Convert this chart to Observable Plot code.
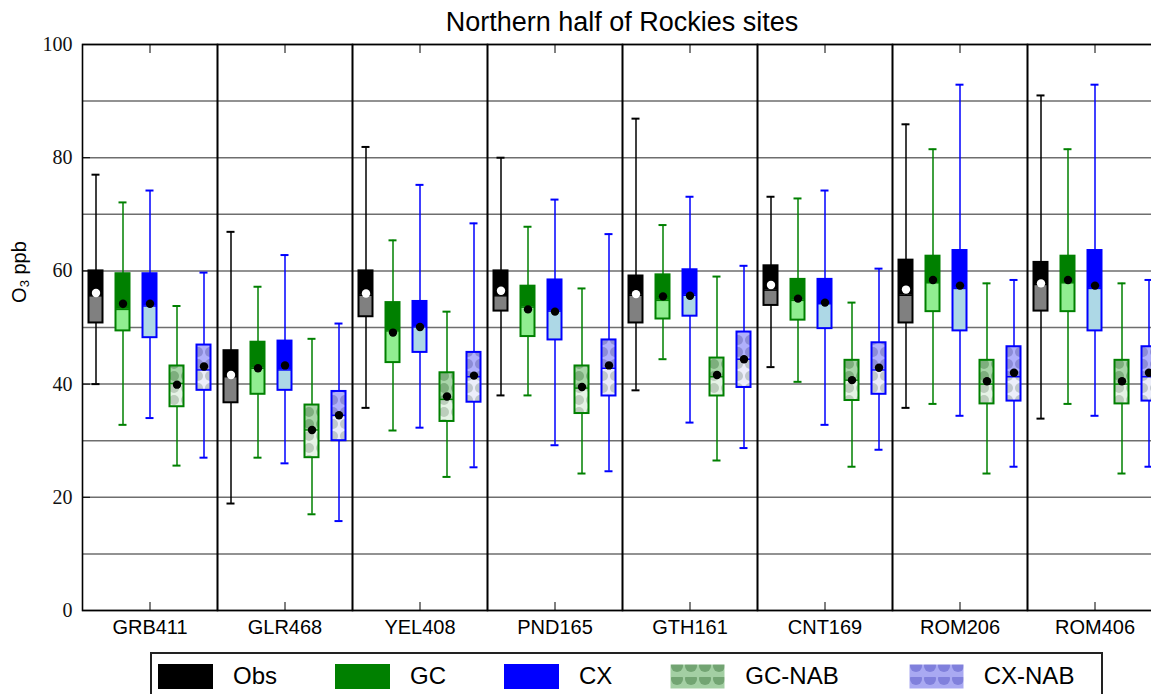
<!DOCTYPE html>
<html>
<head>
<meta charset="utf-8">
<script src="https://cdn.jsdelivr.net/npm/d3@7"></script>
<script src="https://cdn.jsdelivr.net/npm/@observablehq/plot@0.6"></script>
<style>
  html, body { margin: 0; padding: 0; background: #fff; overflow: hidden; width: 1151px; height: 694px; }
  #wrap { position: relative; width: 1172px; }
  #title { height: 29px; padding-top: 5px; line-height: 34px; padding-left: 82px; width: 1080px; text-align: center;
           font-family: "Liberation Sans", Arial, sans-serif; font-size: 27px; color: #000; white-space: nowrap; }
  #ylabel { position: absolute; left: -31px; top: 260px; width: 100px; height: 24px; line-height: 24px; text-align: center;
            transform: rotate(-90deg); font-family: "Liberation Sans", Arial, sans-serif; font-size: 20px; color: #000; }
  #ylabel sub { font-size: 13px; vertical-align: -3px; line-height: 0; }
  #chart svg { display: block; }
  #legend { margin-top: 12px; margin-left: 150px; width: 943px; height: 44px; border: 2px solid #222; box-sizing: content-box;
            display: flex; align-items: center; padding-left: 6px; font-family: "Liberation Sans", Arial, sans-serif; font-size: 24px; color: #000;
            white-space: nowrap; overflow: visible; }
  .item { display: flex; align-items: center; margin-right: 58px; flex: 0 0 auto; white-space: nowrap; }
  .item:nth-child(4) { margin-right: 70px; }
  .item svg { margin-right: 20px; display: block; flex: 0 0 auto; }
</style>
</head>
<body>
<svg width="0" height="0" style="position:absolute">
  <defs>
    <pattern id="pGCd" patternUnits="userSpaceOnUse" width="12" height="12">
      <rect width="12" height="12" fill="#a9d5a9"/>
      <circle cx="6" cy="6" r="5" fill="#7dae7d"/>
    </pattern>
    <pattern id="pGCl" patternUnits="userSpaceOnUse" width="12" height="12">
      <rect width="12" height="12" fill="#e6f3e6"/>
      <circle cx="6" cy="6" r="5" fill="#bccdbc"/>
    </pattern>
    <pattern id="pCXd" patternUnits="userSpaceOnUse" width="12" height="12">
      <rect width="12" height="12" fill="#b0b0fb"/>
      <circle cx="6" cy="6" r="5" fill="#8c8cd6"/>
    </pattern>
    <pattern id="pCXl" patternUnits="userSpaceOnUse" width="12" height="12">
      <rect width="12" height="12" fill="#eceefa"/>
      <circle cx="6" cy="6" r="5" fill="#bfc7cc"/>
    </pattern>
    <pattern id="lGC" patternUnits="userSpaceOnUse" width="14" height="13">
      <rect width="14" height="13" fill="#a3cfa3"/>
      <circle cx="7" cy="2" r="6" fill="#72a472"/>
    </pattern>
    <pattern id="lCX" patternUnits="userSpaceOnUse" width="14" height="13">
      <rect width="14" height="13" fill="#a9a9f2"/>
      <circle cx="7" cy="2" r="6" fill="#8080dc"/>
    </pattern>
  </defs>
</svg>
<div id="wrap">
  <div id="title">Northern half of Rockies sites</div>
  <div id="ylabel">O<sub>3</sub> ppb</div>
  <div id="chart"></div>
  <div id="legend"></div>
</div>
<script>
// ---- data ----
const sites = ["GRB411", "GLR468", "YEL408", "PND165", "GTH161", "CNT169", "ROM206", "ROM406"];
const seriesNames = ["Obs", "GC", "CX", "GC-NAB", "CX-NAB"];
// rows per site: [min, q1, median, q3, max, mean]
const obs = [
  [40.0, 50.8, 55.6, 60.0, 77.0, 56.1],
  [18.9, 36.7, 41.3, 45.9, 66.9, 41.6],
  [35.8, 51.9, 55.7, 60.0, 81.9, 56.0],
  [38.0, 52.9, 55.6, 60.0, 80.0, 56.5],
  [38.9, 50.8, 55.7, 59.1, 86.9, 55.9],
  [43.0, 53.9, 56.6, 60.9, 73.1, 57.5],
  [35.8, 50.8, 55.7, 61.9, 85.9, 56.7],
  [33.9, 52.9, 57.6, 61.5, 91.0, 57.8]
];
const gc = [
  [32.8, 49.4, 53.2, 59.5, 72.1, 54.2],
  [27.0, 38.2, 42.8, 47.4, 57.2, 42.8],
  [31.8, 43.8, 49.4, 54.4, 65.4, 49.1],
  [38.0, 48.4, 53.6, 57.3, 67.8, 53.2],
  [44.4, 51.5, 54.8, 59.3, 68.1, 55.5],
  [40.4, 51.3, 54.8, 58.5, 72.8, 55.1],
  [36.5, 52.8, 57.9, 62.6, 81.5, 58.4],
  [36.5, 52.8, 57.9, 62.6, 81.5, 58.4]
];
const cx = [
  [34.0, 48.2, 53.8, 59.5, 74.2, 54.2],
  [26.0, 38.9, 42.5, 47.6, 62.8, 43.3],
  [32.3, 45.6, 50.1, 54.6, 75.2, 50.1],
  [29.2, 47.8, 52.9, 58.4, 72.6, 52.8],
  [33.2, 52.0, 55.7, 60.2, 73.1, 55.6],
  [32.8, 49.8, 54.2, 58.5, 74.2, 54.4],
  [34.4, 49.4, 56.9, 63.6, 92.9, 57.4],
  [34.4, 49.4, 56.9, 63.6, 92.9, 57.4]
];
const gcNab = [
  [25.6, 36.0, 40.1, 43.2, 53.8, 39.9],
  [17.0, 27.0, 31.9, 36.3, 48.0, 31.9],
  [23.6, 33.4, 37.3, 42.0, 52.8, 37.8],
  [24.2, 34.8, 39.3, 43.2, 56.9, 39.5],
  [26.5, 37.9, 41.3, 44.6, 59.0, 41.6],
  [25.4, 37.1, 40.7, 44.2, 54.4, 40.7],
  [24.2, 36.5, 40.0, 44.2, 57.8, 40.5],
  [24.2, 36.5, 40.0, 44.2, 57.8, 40.5]
];
const cxNab = [
  [27.0, 38.9, 42.5, 46.9, 59.7, 43.1],
  [15.8, 30.0, 34.5, 38.7, 50.7, 34.5],
  [25.3, 36.8, 41.3, 45.6, 68.4, 41.5],
  [24.6, 37.9, 42.8, 47.8, 66.5, 43.3],
  [28.7, 39.4, 44.4, 49.2, 60.9, 44.4],
  [28.4, 38.2, 42.5, 47.3, 60.4, 42.9],
  [25.4, 37.0, 41.3, 46.6, 58.4, 42.0],
  [25.4, 37.0, 41.3, 46.6, 58.4, 42.0]
];
const yTicks = [0, 20, 40, 60, 80, 100];
const yGrid = [0, 10, 20, 30, 40, 50, 60, 70, 80, 90, 100];

// ---- styles ----
const edge = {"Obs": "#000000", "GC": "#008000", "CX": "#0000ff", "GC-NAB": "#008000", "CX-NAB": "#0000ff"};
const upperFill = {"Obs": "#000000", "GC": "#008000", "CX": "#0000ff", "GC-NAB": "url(#pGCd)", "CX-NAB": "url(#pCXd)"};
const lowerFill = {"Obs": "#808080", "GC": "#90ee90", "CX": "#add8e6", "GC-NAB": "url(#pGCl)", "CX-NAB": "url(#pCXl)"};
const meanFill = {"Obs": "#ffffff", "GC": "#000000", "CX": "#000000", "GC-NAB": "#000000", "CX-NAB": "#000000"};
const legendFill = {"Obs": "#000000", "GC": "#008000", "CX": "#0000ff", "GC-NAB": "url(#lGC)", "CX-NAB": "url(#lCX)"};

const bySeries = [obs, gc, cx, gcNab, cxNab];
const rows = [];
seriesNames.forEach((s, j) => bySeries[j].forEach((v, i) => rows.push({
  site: sites[i], series: s, min: v[0], q1: v[1], med: v[2], q3: v[3], max: v[4], mean: v[5]
})));

const base = {fx: "site", x: "series"};
const boxInset = 6.5, capInset = 9.5;

const chart = Plot.plot({
  width: 1172,
  height: 606,
  marginLeft: 82,
  marginRight: 10,
  marginTop: 10,
  marginBottom: 30,
  style: {fontFamily: "'Liberation Sans', Arial, sans-serif", fontSize: "20px", color: "#000", background: "transparent"},
  fx: {domain: sites, padding: 0, label: null},
  x: {domain: seriesNames, padding: 0, axis: null},
  y: {domain: [0, 100], label: null},
  color: {type: "identity"},
  marks: [
    Plot.gridY(yGrid, {stroke: "#6e6e6e", strokeOpacity: 1, strokeWidth: 1.5}),
    Plot.ruleX(rows, {...base, y1: "min", y2: "max", stroke: d => edge[d.series], strokeWidth: 1.5}),
    Plot.tickY(rows, {...base, y: "min", stroke: d => edge[d.series], strokeWidth: 2, insetLeft: capInset, insetRight: capInset}),
    Plot.tickY(rows, {...base, y: "max", stroke: d => edge[d.series], strokeWidth: 2, insetLeft: capInset, insetRight: capInset}),
    Plot.barY(rows, {...base, y1: "q1", y2: "med", fill: d => lowerFill[d.series], insetLeft: boxInset, insetRight: boxInset}),
    Plot.barY(rows, {...base, y1: "med", y2: "q3", fill: d => upperFill[d.series], insetLeft: boxInset, insetRight: boxInset}),
    Plot.tickY(rows, {...base, y: "med", stroke: d => edge[d.series], strokeWidth: 1.5, insetLeft: boxInset, insetRight: boxInset}),
    Plot.barY(rows, {...base, y1: "q1", y2: "q3", fill: "none", stroke: d => edge[d.series], strokeWidth: 2, insetLeft: boxInset, insetRight: boxInset}),
    Plot.dot(rows, {...base, y: "mean", r: 4.2, fill: d => meanFill[d.series], stroke: "none"}),
    Plot.frame({stroke: "#000", strokeWidth: 1.6}),
    Plot.axisY(yTicks, {tickSize: 0, tickPadding: 10, label: null, fontFamily: "'Liberation Serif', 'Times New Roman', serif", fontSize: 20, fill: "#111"}),
    Plot.axisY(yTicks, {tickSize: -8, tickFormat: () => "", label: null, stroke: "#000"}),
    Plot.axisFx({anchor: "bottom", tickSize: 0, tickPadding: 9, label: null, fontSize: 20}),
    Plot.axisFx({anchor: "bottom", tickSize: -8, tickFormat: () => "", label: null}),
    Plot.axisFx({anchor: "top", tickSize: -8, tickFormat: () => "", label: null})
  ]
});
document.getElementById("chart").appendChild(chart);

// ---- legend ----
const legend = d3.select("#legend");
seriesNames.forEach(s => {
  const item = legend.append("div").attr("class", "item");
  const sw = item.append("svg").attr("width", 55).attr("height", 25);
  sw.append("rect").attr("x", 0.5).attr("y", 0.5).attr("width", 54).attr("height", 24)
    .attr("fill", legendFill[s]).attr("stroke", s.includes("NAB") ? "none" : edge[s]).attr("stroke-width", 1);
  item.append("span").text(s);
});
</script>
</body>
</html>
